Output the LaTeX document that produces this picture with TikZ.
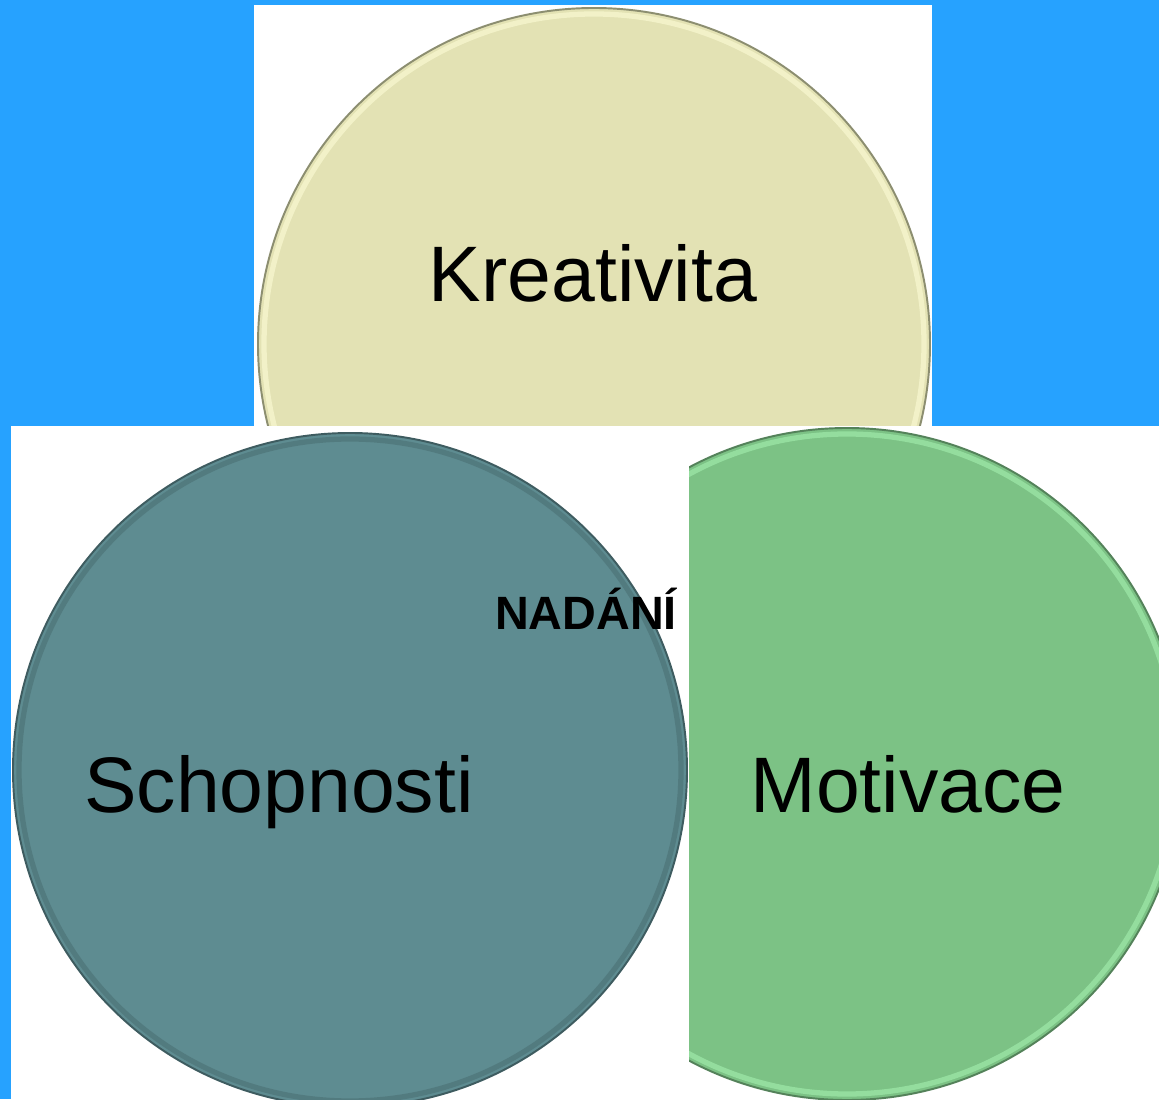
\documentclass[tikz,border=0pt]{standalone}
\usepackage{fontspec}
\setmainfont{Liberation Sans}
\usetikzlibrary{positioning}

\definecolor{bgblue}{RGB}{38,162,255}
\definecolor{kreafill}{RGB}{227,226,180}
\definecolor{kreaedge}{RGB}{140,142,112}
\definecolor{kreahi}{RGB}{252,252,214}
\definecolor{schofill}{RGB}{94,140,145}
\definecolor{schoedge}{RGB}{62,92,96}
\definecolor{schohi}{RGB}{140,200,208}
\definecolor{motifill}{RGB}{124,194,133}
\definecolor{motiedge}{RGB}{84,130,90}
\definecolor{motihi}{RGB}{164,240,176}

\begin{document}
\begin{tikzpicture}[x=0.02cm, y=0.02cm,
    bigtext/.style={font=\fontsize{44.8}{50}\selectfont, text=black, inner sep=0pt, anchor=base},
    smalltext/.style={font=\bfseries\fontsize{26.6}{30}\selectfont, text=black, inner sep=0pt, anchor=base},
    rim/.style={line width=3pt, opacity=0.6},
    edge/.style={line width=1.1pt}]
    % Background
    \fill[bgblue] (0,0) rectangle (1159,1099);
    \useasboundingbox (0,0) rectangle (1159,1099);
    \fill[white] (254,673) rectangle (932,1094);
    \fill[white] (11,0) rectangle (1159,673);
    % Kreativita
    \begin{scope}
        \clip (254,673) rectangle (932,1094);
        \fill[kreafill] (594,755) circle (336);
        \draw[kreahi, rim] (594,755) circle (330);
        \draw[kreaedge, edge] (594,755) circle (336);
    \end{scope}
    % Schopnosti
    \begin{scope}
        \clip (11,0) rectangle (1159,673);
        \fill[schofill] (350,329) circle (337);
        \draw[schoedge, rim, opacity=0.35] (350,329) circle (331);
        \draw[schoedge, edge] (350,329) circle (337);
    \end{scope}
    % Motivace
    \begin{scope}
        \clip (689,0) rectangle (1159,673);
        \fill[motifill] (847,335) circle (336);
        \draw[motihi, rim] (847,335) circle (330);
        \draw[motiedge, edge] (847,335) circle (336);
    \end{scope}
    % Labels
    \node[bigtext] (krea) at (593,797) {Kreativita};
    \node[bigtext] (scho) at (279,287) {Schopnosti};
    \node[bigtext] (moti) at (908,287) {Motivace};
    \node[smalltext] (nadani) at (586,469) {NADÁNÍ};
\end{tikzpicture}
\end{document}
